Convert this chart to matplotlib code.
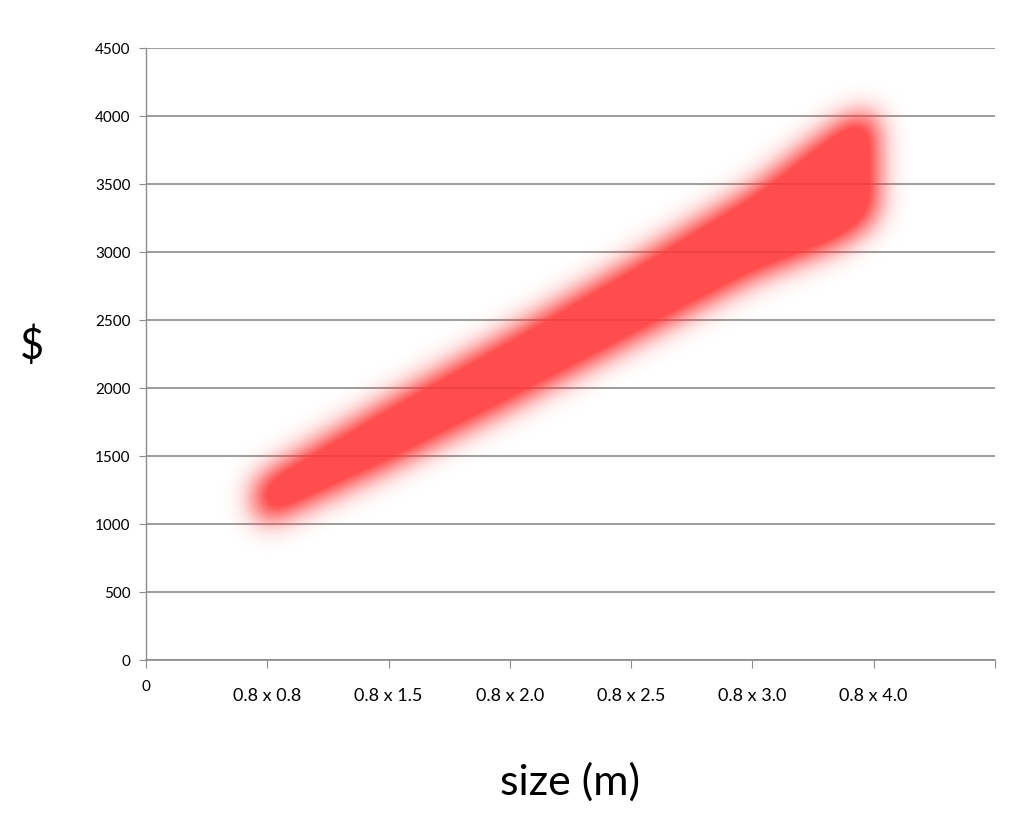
import matplotlib
matplotlib.use("Agg")
import matplotlib.pyplot as plt
import numpy as np

plt.rcParams['font.family'] = ['Lato', 'DejaVu Sans']

# categories on the x axis (positions 1..6, axis runs 0..7)
sizes = ["0.8 x 0.8", "0.8 x 1.5", "0.8 x 2.0", "0.8 x 2.5", "0.8 x 3.0", "0.8 x 4.0"]
y_ticks = [0, 500, 1000, 1500, 2000, 2500, 3000, 3500, 4000, 4500]

# rough price band (core, before the blur)
band_x = [0.9, 1.0, 2.0, 3.0, 4.0, 5.0, 5.7, 5.93, 6.02]
band_hi = [1280, 1360, 1890, 2390, 2910, 3450, 3930, 4030, 3980]
band_lo = [1070, 1020, 1430, 1880, 2350, 2820, 3060, 3190, 3300]

fig = plt.figure(figsize=(10.24, 8.19), dpi=100)
ax = fig.add_axes([0.1426, 0.194, 0.829, 0.747])
ax.set_xlim(0, 7)
ax.set_ylim(0, 4500)

# build the soft band on a grid about one pixel per cell
nx, ny = 850, 612
gx = np.linspace(0, 7, nx)
gy = np.linspace(0, 4500, ny)
X, Y = np.meshgrid(gx, gy)
hi = np.interp(gx, band_x, band_hi)
lo = np.interp(gx, band_x, band_lo)
inside = (X >= band_x[0]) & (X <= band_x[-1]) & (Y >= lo[None, :]) & (Y <= hi[None, :])
mask = inside.astype(float)

def gauss_blur(a, sigma):
    r = int(3 * sigma)
    k = np.exp(-0.5 * (np.arange(-r, r + 1) / sigma) ** 2)
    k /= k.sum()
    a = np.apply_along_axis(lambda v: np.convolve(v, k, mode='same'), 0, a)
    a = np.apply_along_axis(lambda v: np.convolve(v, k, mode='same'), 1, a)
    return a

soft = gauss_blur(mask, 14.0)
soft = np.clip(soft * 1.45, 0, 1)
rgba = np.zeros((ny, nx, 4))
rgba[..., 0] = 1.0
rgba[..., 1] = 0.22
rgba[..., 2] = 0.22
rgba[..., 3] = soft * 0.9
ax.imshow(rgba, extent=(0, 7, 0, 4500), origin='lower', aspect='auto',
          interpolation='bilinear', zorder=2)

# grid and axes
ax.set_yticks(y_ticks)
ax.set_yticklabels([str(v) for v in y_ticks], fontsize=11)
ax.yaxis.grid(True, color='#8c8c8c', linewidth=1.2, zorder=1)
ax.set_axisbelow(True)
for s in ['top', 'right']:
    ax.spines[s].set_visible(False)
ax.spines['left'].set_color('#8c8c8c')
ax.spines['bottom'].set_color('#8c8c8c')
ax.spines['left'].set_linewidth(1.0)
ax.spines['bottom'].set_linewidth(1.2)
ax.tick_params(axis='y', length=5, color='#8c8c8c', pad=6)

ax.xaxis.remove_overlapping_locs = False
ax.set_xticks(range(8))
ax.set_xticklabels(['0'] + [''] * 7, fontsize=11)
ax.set_xticks(np.arange(1, 7), minor=True)
ax.set_xticklabels(sizes, minor=True, fontsize=13)
ax.tick_params(axis='x', which='major', length=6, color='#8c8c8c', pad=8)
ax.tick_params(axis='x', which='minor', length=0, pad=20)

ax.set_xlabel("size (m)", fontsize=31, labelpad=42)
fig.text(0.031, 0.578, "$", fontsize=30, ha='center', va='center')

plt.savefig('out.png', dpi=100)
